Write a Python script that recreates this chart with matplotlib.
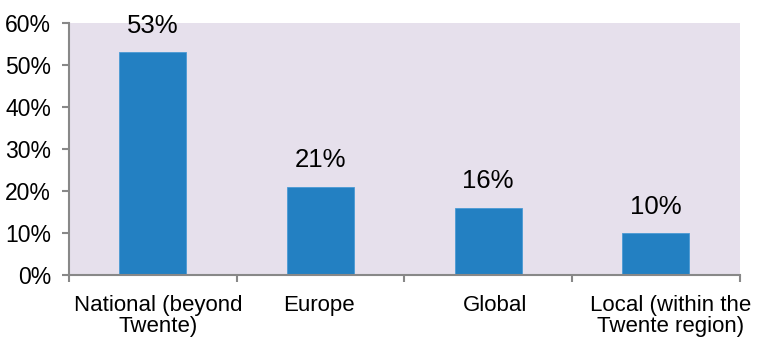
import matplotlib.pyplot as plt
import numpy as np

plt.rcParams['font.family'] = ['Liberation Sans', 'DejaVu Sans']

categories = ['National (beyond\nTwente)', 'Europe', 'Global', 'Local (within the\nTwente region)']
values = [53, 21, 16, 10]

fig = plt.figure(figsize=(7.58, 3.44), dpi=100)
ax = fig.add_axes([0.091, 0.2, 0.885, 0.733])
ax.set_facecolor('#E6E0EC')

x = np.arange(len(categories))
bars = ax.bar(x, values, width=0.4, color='#2380C2', edgecolor='#4A9AD4', linewidth=0.6)

for xi, v in zip(x, values):
    ax.annotate(f'{v}%', (xi, v), xytext=(0, 10.5), textcoords='offset points',
                ha='center', va='bottom', fontsize=18.5)

ax.set_xlim(-0.5, len(categories) - 0.5)
ax.set_ylim(0, 60)
ax.set_yticks(range(0, 61, 10))
ax.set_yticklabels([f'{t}%' for t in range(0, 61, 10)], fontsize=16.5)

ax.set_xticks(np.arange(-0.5, len(categories), 1.0))
ax.set_xticklabels([])
ax.set_xticks(x + np.array([0.03, -0.01, 0.04, 0.09]), minor=True)
ax.set_xticklabels(categories, minor=True, fontsize=16, linespacing=1.05)
ax.tick_params(axis='x', which='minor', length=0, pad=14)
ax.tick_params(axis='x', which='major', length=5, color='#888888', width=1.5)
ax.tick_params(axis='y', length=5, color='#888888', width=1.5, pad=8)

for s in ['top', 'right']:
    ax.spines[s].set_visible(False)
for s in ['left', 'bottom']:
    ax.spines[s].set_color('#888888')
    ax.spines[s].set_linewidth(1.5)

fig.savefig('out.png', dpi=100)
